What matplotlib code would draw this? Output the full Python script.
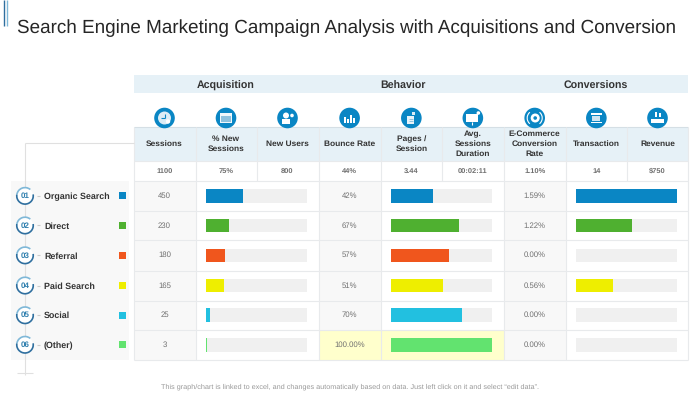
import numpy as np
import matplotlib
matplotlib.use("Agg")
import matplotlib.pyplot as plt
from matplotlib.patches import Rectangle, Circle, Arc

plt.rcParams['font.family'] = ['Liberation Sans', 'DejaVu Sans']
plt.rcParams['text.hinting'] = 'no_hinting'

# table content
groups = ["Acquisition", "Behavior", "Conversions"]
columns = ["Sessions", "% New\nSessions", "New Users", "Bounce Rate", "Pages /\nSession",
           "Avg.\nSessions\nDuration", "E-Commerce\nConversion\nRate", "Transaction", "Revenue"]
totals = ["1100", "75%", "800", "44%", "3.44", "00:02:11", "1.10%", "14", "$750"]
channels = ["Organic Search", "Direct", "Referral", "Paid Search", "Social", "(Other)"]
numbers = ["01", "02", "03", "04", "05", "06"]
colors = ["#0a86c4", "#4fb030", "#f0561d", "#eeee00", "#22c0e0", "#62e36f"]

sessions = ["450", "230", "180", "165", "25", "3"]
bounce = ["42%", "67%", "57%", "51%", "70%", "100.00%"]
ecommerce = ["1.59%", "1.22%", "0.00%", "0.56%", "0.00%", "0.00%"]

# bar lengths as a share of the full track
new_sessions_bar = [0.366, 0.231, 0.188, 0.175, 0.036, 0.006]
pages_bar = [0.42, 0.67, 0.57, 0.515, 0.705, 1.0]
transaction_bar = [1.0, 0.55, 0.0, 0.36, 0.0, 0.0]

col_x = [133.5, 195.5, 256.5, 318.5, 380.7, 442, 503.7, 565.7, 627, 688]
row_y = [181, 210.7, 240.2, 270.5, 300.5, 330, 359.5]

fig = plt.figure(figsize=(7, 3.93), dpi=100)
ax = fig.add_axes([0, 0, 1, 1])
ax.set_xlim(0, 700)
ax.set_ylim(393, 0)
ax.axis("off")

HEAD_BG = "#e6f1f7"
LINE = "#e8eaec"
GREY_BG = "#f8f8f8"
YELLOW_BG = "#ffffcc"
BLUE = "#0a86c4"
PALE = "#dcecf5"
TEXT = "#333333"
CELL = "#707070"


def rect(x0, y0, x1, y1, color, z=1):
    ax.add_patch(Rectangle((x0, y0), x1 - x0, y1 - y0, fc=color, ec="none", zorder=z))


def line(xs, ys, color=LINE, lw=0.8, z=2):
    ax.plot(xs, ys, color=color, lw=lw, zorder=z, solid_capstyle="butt")


def dot(x, y, r, color, z=4):
    ax.add_patch(Circle((x, y), r, fc=color, ec="none", zorder=z))


def draw_icon(i, cx, cy):
    dot(cx, cy, 10.3, BLUE, 3)
    if i == 0:  # clock
        dot(cx, cy, 6.5, PALE)
        line([cx, cx], [cy - 4, cy], BLUE, 0.8, 5)
        line([cx - 4, cx], [cy, cy], BLUE, 0.8, 5)
        dot(cx + 3.5, cy + 3.5, 2.2, "white", 5)
    elif i == 1:  # window
        rect(cx - 6, cy - 5, cx + 6, cy + 5, "#f0f7fb", 4)
        rect(cx - 5, cy - 2.5, cx + 5, cy + 4, "#8fc2de", 5)
    elif i == 2:  # user
        dot(cx - 1.5, cy - 2.5, 3, "white")
        rect(cx - 6, cy + 1, cx + 2.5, cy + 5.5, "white", 4)
        dot(cx + 4.5, cy - 2.5, 1.8, "white")
    elif i == 3:  # bars
        for dx, h in zip([-4.5, -1.5, 1.5, 4.5], [6, 4, 8, 5]):
            rect(cx + dx - 1, cy + 5 - h, cx + dx + 1, cy + 5, "white", 4)
    elif i == 4:  # page
        rect(cx - 4, cy - 2, cx + 3, cy + 6, "#e8f3f9", 4)
        line([cx - 2.5, cx + 1.5], [cy + 1, cy + 1], "#8fc2de", 0.7, 5)
        line([cx - 2.5, cx + 1.5], [cy + 3, cy + 3], "#8fc2de", 0.7, 5)
        rect(cx + 1, cy - 6, cx + 4, cy - 3, PALE, 4)
    elif i == 5:  # screen
        rect(cx - 7, cy - 4, cx + 5, cy + 3.5, "white", 4)
        line([cx - 1, cx - 1], [cy + 3.5, cy + 6.5], "white", 0.8, 4)
        dot(cx + 5.5, cy - 5, 1.8, "white", 5)
    elif i == 6:  # dollar with arrows
        dot(cx + 0.5, cy, 4.5, "white")
        dot(cx + 0.5, cy, 1.8, BLUE, 5)
        ax.add_patch(Arc((cx, cy), 15, 15, theta1=130, theta2=230, ec="white", lw=0.8, zorder=4))
        ax.add_patch(Arc((cx, cy), 15, 15, theta1=-50, theta2=50, ec="white", lw=0.8, zorder=4))
    elif i == 7:  # transaction
        rect(cx - 5.5, cy - 5, cx + 5.5, cy - 3.5, "white", 4)
        rect(cx - 4, cy - 2, cx + 4, cy + 2.5, "#cfe5f1", 4)
        rect(cx - 5.5, cy + 3.5, cx + 5.5, cy + 5, "white", 4)
    else:  # hand with revenue
        rect(cx - 2.5, cy - 6, cx - 0.3, cy - 1, "white", 4)
        rect(cx + 1, cy - 5, cx + 3.5, cy - 1, "white", 4)
        rect(cx - 6.5, cy + 1, cx + 6, cy + 5, "white", 4)


# accent lines and title
line([4, 4], [0, 26], "#2f6f9f", 1.0)
line([7, 7], [0, 26], "#7fb8d8", 1.0)
ax.text(17, 28, "Search Engine Marketing Campaign Analysis with Acquisitions and Conversion",
        fontsize=13.59, color="#262626", va="center", ha="left")

# header band
rect(col_x[0], 75, col_x[-1], 93, HEAD_BG)
for name, cx in zip(groups, [226, 403.5, 596]):
    ax.text(cx, 88.5, name, fontsize=7.7, fontweight="bold", color=TEXT, ha="center", va="baseline")

# column header row
rect(col_x[0], 127, col_x[-1], 161, HEAD_BG)
for i, name in enumerate(columns):
    cx = (col_x[i] + col_x[i + 1]) / 2
    ax.text(cx, 144, name, fontsize=6.0, fontweight="bold", color=TEXT, ha="center", va="center",
            linespacing=1.4)
    ax.text(cx, 171, totals[i], fontsize=5.4, fontweight="bold", color=CELL, ha="center", va="center")
    draw_icon(i, cx, 118)

# body backgrounds
for i in (0, 3, 6):
    rect(col_x[i], row_y[0], col_x[i + 1], row_y[-1], GREY_BG)
rect(col_x[3], row_y[5], col_x[6], row_y[6], YELLOW_BG)

# grid
line([col_x[0], col_x[-1]], [127, 127], "#d5dfe5")
line([col_x[0], col_x[-1]], [161, 161], LINE)
for y in row_y:
    line([col_x[0], col_x[-1]], y * np.ones(2))
for x in (col_x[1], col_x[3], col_x[4], col_x[6], col_x[7]):
    line([x, x], [127, row_y[-1]])
for x in (col_x[2], col_x[5], col_x[8]):
    line([x, x], [127, row_y[0]])
for x in (col_x[0], col_x[-1]):
    line([x, x], [127, row_y[-1]])

# bars
tracks = [(206, 307, new_sessions_bar), (391, 492, pages_bar), (576.3, 677.3, transaction_bar)]
centers = [(row_y[i] + row_y[i + 1]) / 2 for i in range(6)]
for x0, x1, values in tracks:
    span = x1 - x0
    ax.barh(centers, [span] * 6, left=x0, height=13.6, color="#f0f0f0", zorder=3)
    ax.barh(centers, np.array(values) * span, left=x0, height=13.6, color=colors, zorder=4)

# left panel
rect(11, row_y[0] - 0.5, 129, row_y[-1] + 0.5, GREY_BG)
line([25, 133.5], [143, 143], "#e0e0e0")
line([25, 25], [143, 375], "#e0e0e0")
line([17, 33], [373, 373], "#e0e0e0")

for i, name in enumerate(channels):
    cy = centers[i]
    dot(25, cy, 8, "white", 3)
    ax.add_patch(Arc((25, cy), 16.5, 16.5, theta1=-10, theta2=190, ec="#2f6f9f", lw=1.2, zorder=4))
    ax.add_patch(Arc((25, cy), 16.5, 16.5, theta1=190, theta2=310, ec="#7fb8d8", lw=1.2, zorder=4))
    ax.text(25, cy, numbers[i], fontsize=5.8, fontweight="bold", color="#2f7fae", ha="center", va="center", zorder=5)
    line([36.5, 39.5], [cy, cy], "#cccccc")
    ax.text(44, cy + 3.1, name, fontsize=6.4, fontweight="bold", color=TEXT, ha="left", va="baseline")
    rect(118.5, cy - 3.6, 126, cy + 3.6, colors[i], 3)

# body text
for i in range(6):
    cy = centers[i]
    ax.text((col_x[0] + col_x[1]) / 2, cy, sessions[i], fontsize=5.6, color=CELL, ha="center", va="center", zorder=5)
    ax.text((col_x[3] + col_x[4]) / 2, cy, bounce[i], fontsize=5.6, color=CELL, ha="center", va="center", zorder=5)
    ax.text((col_x[6] + col_x[7]) / 2, cy, ecommerce[i], fontsize=5.6, color=CELL, ha="center", va="center", zorder=5)

ax.text(350.5, 387, "This graph/chart is linked to excel, and changes automatically based on data. Just left click on it and select \u201cedit data\u201d.",
        fontsize=5.24, color="#999999", ha="center", va="center")

fig.savefig("out.png", dpi=100)
